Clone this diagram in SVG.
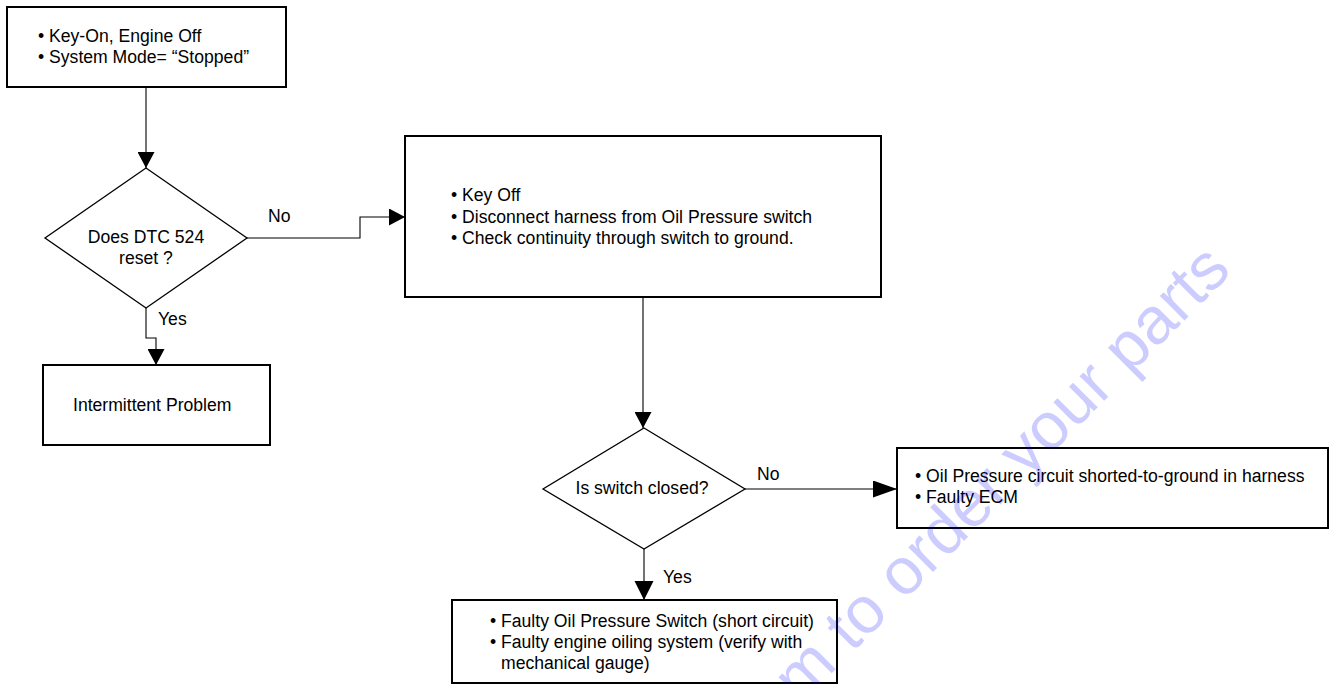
<svg xmlns="http://www.w3.org/2000/svg" width="1332" height="684" viewBox="0 0 1332 684">
<style>
.box{fill:#fff;stroke:#000;stroke-width:2}
.dia{fill:#fff;stroke:#000;stroke-width:1.3}
.con{fill:none;stroke:#000;stroke-width:1.1}
text{font-family:"Liberation Sans",Arial,sans-serif;font-size:17.6px;fill:#000}
.c{text-anchor:middle}
.wm{font-size:66px;fill:#0000ff;fill-opacity:0.2}
</style>
<defs>
<marker id="ah" markerUnits="userSpaceOnUse" markerWidth="17" markerHeight="17" refX="16" refY="8.5" orient="auto"><path d="M0,0 L16,8.5 L0,17 z" fill="#000"/></marker>
<marker id="ahl" markerUnits="userSpaceOnUse" markerWidth="25" markerHeight="18" refX="24" refY="8.5" orient="auto"><path d="M0,0 L24,8.5 L0,17 z" fill="#000"/></marker>
<marker id="ahb" markerUnits="userSpaceOnUse" markerWidth="20" markerHeight="20" refX="19" refY="9.5" orient="auto"><path d="M0,0 L19,9.5 L0,19 z" fill="#000"/></marker>
</defs>
<g id="connectors">
<path class="con" d="M146,87 L146,168" marker-end="url(#ah)"/>
<path class="con" d="M247,238 L360,238 L360,217 L405,217" marker-end="url(#ah)"/>
<path class="con" d="M146,308 L146,338 L156,338 L156,365" marker-end="url(#ah)"/>
<path class="con" d="M643,297 L643,428" marker-end="url(#ah)"/>
<path class="con" d="M745,489 L897,489" marker-end="url(#ahl)"/>
<path class="con" d="M644,549 L644,600" marker-end="url(#ahb)"/>
<text x="268" y="222">No</text>
<text x="158" y="325">Yes</text>
<text x="757" y="480">No</text>
<text x="663" y="583">Yes</text>
</g>
<g id="start">
<rect class="box" x="7" y="7" width="279" height="80"/>
<text x="38" y="42">• Key-On, Engine Off</text>
<text x="38" y="63">• System Mode= “Stopped”</text>
</g>
<g id="dtc-reset">
<polygon class="dia" points="146,168 247,238 146,308 45,238"/>
<text class="c" x="146" y="243">Does DTC 524</text>
<text class="c" x="146" y="264">reset ?</text>
</g>
<g id="intermittent">
<rect class="box" x="43" y="365" width="227" height="80"/>
<text x="73" y="411">Intermittent Problem</text>
</g>
<g id="key-off">
<rect class="box" x="405" y="136" width="476" height="161"/>
<text x="451" y="201">• Key Off</text>
<text x="451" y="222.5">• Disconnect harness from Oil Pressure switch</text>
<text x="451" y="244">• Check continuity through switch to ground.</text>
</g>
<g id="switch-closed">
<polygon class="dia" points="644,428 745,489 644,549 543,489"/>
<text class="c" x="642" y="494">Is switch closed?</text>
</g>
<g id="shorted">
<rect class="box" x="897" y="448" width="431" height="80"/>
<text x="915" y="482">• Oil Pressure circuit shorted-to-ground in harness</text>
<text x="915" y="503">• Faulty ECM</text>
</g>
<g id="faulty-switch">
<rect class="box" x="452" y="600" width="385" height="83"/>
<text x="490" y="627">• Faulty Oil Pressure Switch (short circuit)</text>
<text x="490" y="648">• Faulty engine oiling system (verify with</text>
<text x="501" y="669">mechanical gauge)</text>
</g>
<text class="wm" transform="translate(800,705) rotate(-45)">m to order your parts</text>
</svg>
